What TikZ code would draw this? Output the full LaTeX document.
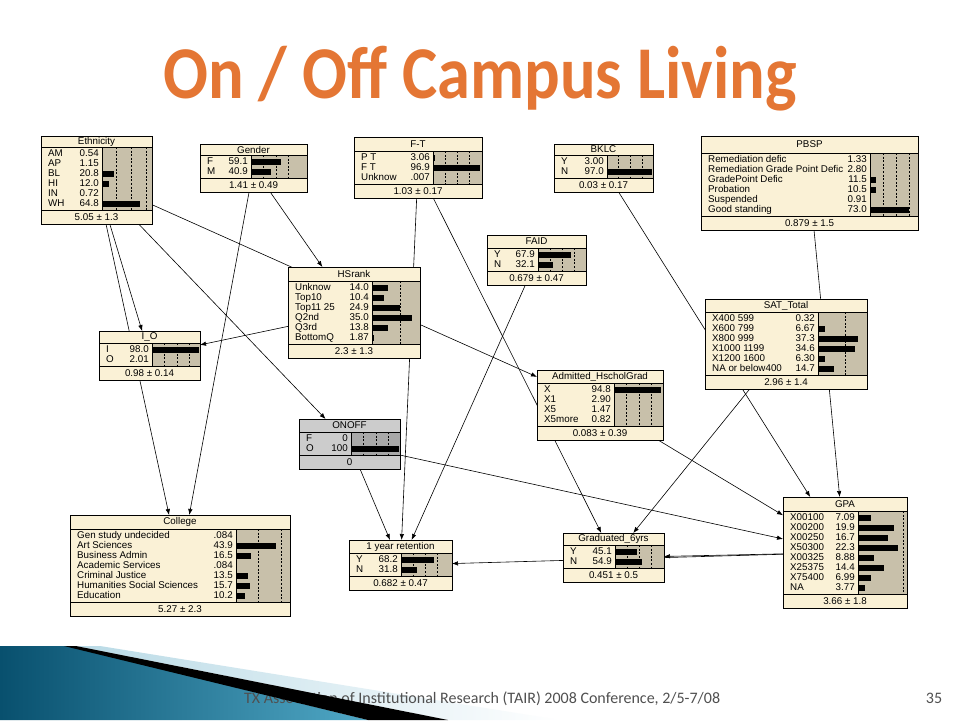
\documentclass[tikz,border=0pt]{standalone}
\usepackage{fontspec}
\usepackage{graphicx}
\setmainfont{Liberation Sans}
\newfontfamily\titlefont{Carlito}
\usetikzlibrary{arrows.meta}
\definecolor{cream}{RGB}{250,241,214}
\definecolor{tanbar}{RGB}{200,192,170}
\definecolor{grayboxc}{RGB}{204,204,204}
\definecolor{graybarc}{RGB}{168,168,168}
\definecolor{titleorange}{RGB}{228,118,52}
\definecolor{tealdark}{RGB}{8,80,110}
\definecolor{teallight}{RGB}{80,168,198}
\definecolor{paleblue}{RGB}{185,218,230}
\definecolor{footgray}{RGB}{80,80,80}
\pgfdeclarelayer{bg}
\pgfdeclarelayer{edges}
\pgfsetlayers{bg,edges,main}
\tikzset{
  netbox/.style={draw=black, line width=0.7pt, inner sep=0pt, outer sep=0pt, anchor=north west},
  ntext/.style={inner sep=0pt, font=\fontsize{9.8}{10}\selectfont},
  dashl/.style={line width=0.6pt, dash pattern=on 2pt off 1.6pt},
  link/.style={line width=0.6pt, -{Latex[length=6pt,width=4.5pt]}},
  sepl/.style={line width=0.7pt}
}
\def\boxfill{cream}
\def\barfill{tanbar}
% name, L, T, R, title height, rows, bar start, scale, title
\newcommand{\NetBox}[9]{%
  \pgfmathsetmacro{\nL}{#2}%
  \pgfmathsetmacro{\nT}{#3}%
  \pgfmathsetmacro{\nR}{#4}%
  \pgfmathsetmacro{\nS}{#3+#5}%
  \pgfmathsetmacro{\nF}{#3+#5+10*#6+3}%
  \pgfmathsetmacro{\nBot}{\nF+14}%
  \pgfmathsetmacro{\nW}{#4-#2}%
  \pgfmathsetmacro{\nH}{\nBot-#3}%
  \pgfmathsetmacro{\nB}{#7}%
  \pgfmathsetmacro{\ns}{#8}%
  \node[netbox, fill=\boxfill, minimum width=\nW pt, minimum height=\nH pt] (#1) at (\nL,\nT) {};
  \fill[fill=\barfill] (\nB,\nS) rectangle (\nR,\nF);
  \foreach \k in {1,2,3} {%
    \pgfmathsetmacro{\xd}{\nB+25*\k*\ns}%
    \ifdim\xd pt<\nR pt \draw[dashl] (\xd,\nS) -- (\xd,\nF);\fi
  }%
  \draw[sepl] (\nB,\nS) -- (\nB,\nF);
  \draw[sepl] (\nL,\nS) -- (\nR,\nS);
  \draw[sepl] (\nL,\nF) -- (\nR,\nF);
  \node[ntext] at ({(\nL+\nR)/2},{\nT+#5/2}) {#9};
}
\newcommand{\NetFoot}[2]{%
  \node[ntext] at ({(\nL+\nR)/2},{\nF+7}) {#2};
  \draw[line width=0.7pt] (#1.north west) rectangle (#1.south east);
}
\newcommand{\NetRow}[4]{%
  \pgfmathsetmacro{\ry}{\nS+10*#1-3}%
  \node[ntext, anchor=mid west] at (\nL+7,\ry) {#2};
  \node[ntext, anchor=mid east] at (\nB-3,\ry) {#3};
  \pgfmathsetmacro{\bx}{min(\nB+#4*\ns,\nR-1.5)}%
  \ifdim #4pt>1pt \fill (\nB,\ry-2.7) rectangle (\bx,\ry+2.7);\fi
}
\begin{document}
\begin{tikzpicture}[x=1pt,y=-1pt]
\begin{pgfonlayer}{bg}
\fill[white] (0,0) rectangle (960,720);
\end{pgfonlayer}
\useasboundingbox (0,0) rectangle (960,720);

% title
\node[anchor=base, inner sep=0pt, text=titleorange, font=\titlefont\bfseries\fontsize{66.5}{80}\selectfont] (title) at (480,98) {\scalebox{1}[1.12]{On / Off Campus Living}};

% Ethnicity
\NetBox{eth}{41}{136}{152}{11}{6}{102}{0.59}{Ethnicity}
\NetRow{1}{AM}{0.54}{0.54}
\NetRow{2}{AP}{1.15}{1.15}
\NetRow{3}{BL}{20.8}{20.8}
\NetRow{4}{HI}{12.0}{12.0}
\NetRow{5}{IN}{0.72}{0.72}
\NetRow{6}{WH}{64.8}{64.8}
\NetFoot{eth}{5.05 ± 1.3}

% Gender
\NetBox{gen}{200}{144}{307}{11}{2}{251}{0.5}{Gender}
\NetRow{1}{F}{59.1}{59.1}
\NetRow{2}{M}{40.9}{40.9}
\NetFoot{gen}{1.41 ± 0.49}

% F-T
\NetBox{ft}{354}{137}{482}{14}{3}{433}{0.49}{F-T}
\NetRow{1}{P T}{3.06}{3.06}
\NetRow{2}{F T}{96.9}{96.9}
\NetRow{3}{Unknow}{.007}{.007}
\NetFoot{ft}{1.03 ± 0.17}

% BKLC
\NetBox{bklc}{554}{144}{653}{11}{2}{607}{0.47}{BKLC}
\NetRow{1}{Y}{3.00}{3.00}
\NetRow{2}{N}{97.0}{97.0}
\NetFoot{bklc}{0.03 ± 0.17}

% PBSP
\NetBox{pbsp}{701}{136}{918}{17}{6}{870}{0.53}{PBSP}
\NetRow{1}{Remediation defic}{1.33}{1.33}
\NetRow{2}{Remediation Grade Point Defic}{2.80}{2.80}
\NetRow{3}{GradePoint Defic}{11.5}{11.5}
\NetRow{4}{Probation}{10.5}{10.5}
\NetRow{5}{Suspended}{0.91}{0.91}
\NetRow{6}{Good standing}{73.0}{73.0}
\NetFoot{pbsp}{0.879 ± 1.5}

% FAID
\NetBox{faid}{487}{235}{586}{13}{2}{538}{0.48}{FAID}
\NetRow{1}{Y}{67.9}{67.9}
\NetRow{2}{N}{32.1}{32.1}
\NetFoot{faid}{0.679 ± 0.47}

% HSrank
\NetBox{hsr}{288}{267}{420}{14}{6}{372}{1.13}{HSrank}
\NetRow{1}{Unknow}{14.0}{14.0}
\NetRow{2}{Top10}{10.4}{10.4}
\NetRow{3}{Top11 25}{24.9}{24.9}
\NetRow{4}{Q2nd}{35.0}{35.0}
\NetRow{5}{Q3rd}{13.8}{13.8}
\NetRow{6}{BottomQ}{1.87}{1.87}
\NetFoot{hsr}{2.3 ± 1.3}

% I_O
\NetBox{io}{99}{331}{200}{12}{2}{152}{0.5}{I\_O}
\NetRow{1}{I}{98.0}{98.0}
\NetRow{2}{O}{2.01}{2.01}
\NetFoot{io}{0.98 ± 0.14}

% SAT_Total
\NetBox{sat}{705}{299}{867}{13}{6}{818}{1.08}{SAT\_Total}
\NetRow{1}{X400 599}{0.32}{0.32}
\NetRow{2}{X600 799}{6.67}{6.67}
\NetRow{3}{X800 999}{37.3}{37.3}
\NetRow{4}{X1000 1199}{34.6}{34.6}
\NetRow{5}{X1200 1600}{6.30}{6.30}
\NetRow{6}{NA or below400}{14.7}{14.7}
\NetFoot{sat}{2.96 ± 1.4}

% Admitted_HscholGrad
\NetBox{adm}{537}{370}{663}{13}{4}{614}{0.5}{Admitted\_HscholGrad}
\NetRow{1}{X}{94.8}{94.8}
\NetRow{2}{X1}{2.90}{2.90}
\NetRow{3}{X5}{1.47}{1.47}
\NetRow{4}{X5more}{0.82}{0.82}
\NetFoot{adm}{0.083 ± 0.39}

% ONOFF
\def\boxfill{grayboxc}\def\barfill{graybarc}
\NetBox{onoff}{299}{419}{400}{13}{2}{351}{0.5}{ONOFF}
\NetRow{1}{F}{0}{0}
\NetRow{2}{O}{100}{100}
\NetFoot{onoff}{0}
\def\boxfill{cream}\def\barfill{tanbar}

% College
\NetBox{col}{70}{515}{290}{14}{7}{236}{0.9}{College}
\NetRow{1}{Gen study undecided}{.084}{.084}
\NetRow{2}{Art Sciences}{43.9}{43.9}
\NetRow{3}{Business Admin}{16.5}{16.5}
\NetRow{4}{Academic Services}{.084}{.084}
\NetRow{5}{Criminal Justice}{13.5}{13.5}
\NetRow{6}{Humanities Social Sciences}{15.7}{15.7}
\NetRow{7}{Education}{10.2}{10.2}
\NetFoot{col}{5.27 ± 2.3}

% 1 year retention
\NetBox{ret}{349}{540}{452}{13}{2}{401}{0.49}{1 year retention}
\NetRow{1}{Y}{68.2}{68.2}
\NetRow{2}{N}{31.8}{31.8}
\NetFoot{ret}{0.682 ± 0.47}

% Graduated_6yrs
\NetBox{grad}{563}{533}{664}{12}{2}{615}{0.49}{Graduated\_6yrs}
\NetRow{1}{Y}{45.1}{45.1}
\NetRow{2}{N}{54.9}{54.9}
\NetFoot{grad}{0.451 ± 0.5}

% GPA
\NetBox{gpa}{783}{497}{907}{14}{8}{858}{1.8}{GPA}
\NetRow{1}{X00100}{7.09}{7.09}
\NetRow{2}{X00200}{19.9}{19.9}
\NetRow{3}{X00250}{16.7}{16.7}
\NetRow{4}{X50300}{22.3}{22.3}
\NetRow{5}{X00325}{8.88}{8.88}
\NetRow{6}{X25375}{14.4}{14.4}
\NetRow{7}{X75400}{6.99}{6.99}
\NetRow{8}{NA}{3.77}{3.77}
\NetFoot{gpa}{3.66 ± 1.8}

% links
\begin{pgfonlayer}{edges}
\draw[link] (eth) -- (adm);
\draw[link] (eth) -- (io);
\draw[link] (eth) -- (col);
\draw[link] (eth) -- (onoff);
\draw[link] (gen) -- (hsr);
\draw[link] (gen) -- (col);
\draw[link] (ft) -- (ret);
\draw[link] (ft) -- (grad);
\draw[link] (bklc) -- (gpa);
\draw[link] (pbsp) -- (gpa);
\draw[link] (hsr) -- (io);
\draw[link] (faid) -- (ret);
\draw[link] (onoff) -- (ret);
\draw[link] (onoff) -- (gpa);
\draw[link] (adm) -- (gpa);
\draw[link] (sat) -- (grad);
\draw[link] (gpa) -- (grad);
\draw[link] (gpa) -- (ret);
\end{pgfonlayer}

% footer decoration
\shade[left color=tealdark, right color=teallight] (0,646) -- (68,646) -- (368,720) -- (0,720) -- cycle;
\shade[left color=paleblue, right color=white] (76,646) -- (100,646) -- (560,720) -- (448,720) -- cycle;
\node[anchor=base west, inner sep=0pt, text=footgray, font=\titlefont\fontsize{16}{18}\selectfont] (foot) at (244,703) {TX Association of Institutional Research (TAIR) 2008 Conference, 2/5-7/08};
\node[anchor=base, inner sep=0pt, text=footgray, font=\titlefont\fontsize{16}{18}\selectfont] (pnum) at (934,703) {35};
\fill[black] (64,646) -- (76,646) -- (448,720) -- (368,720) -- cycle;
\end{tikzpicture}
\end{document}
